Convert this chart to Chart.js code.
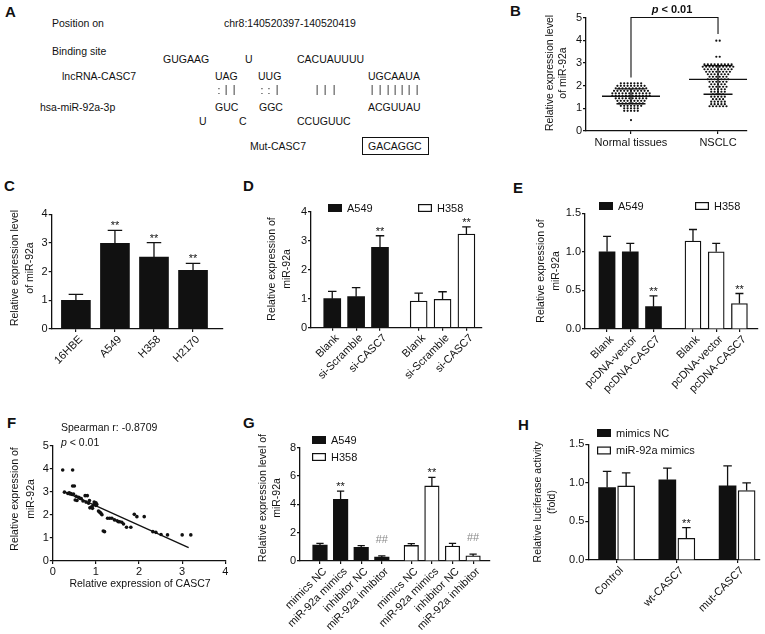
<!DOCTYPE html>
<html>
<head>
<meta charset="utf-8">
<script src="https://cdn.jsdelivr.net/npm/chart.js@4.4.1/dist/chart.umd.min.js"></script>
<style>
  html, body { margin: 0; padding: 0; background: #fff; }
  body { position: relative; width: 765px; height: 634px; overflow: hidden;
         font-family: Arial, "Liberation Sans", sans-serif; color: #111; }
  canvas { position: absolute; }
  .t { position: absolute; font-size: 10.5px; line-height: 1; white-space: nowrap; }
  #bonds { position: absolute; left: 0; top: 0; width: 450px; height: 100px; opacity: 0.99; will-change: transform; }
  .bd { position: absolute; font-size: 10.5px; line-height: 1; width: 8px; text-align: center; color: #222; }
  .L { position: absolute; font-size: 15px; font-weight: bold; line-height: 1; }
  .box { border: 1px solid #111; padding: 3px 6px 2px 5px; }
</style>
</head>
<body>

<!-- panel letters -->
<div class="L" style="left:5px;top:4px">A</div>
<div class="L" style="left:510px;top:3px">B</div>
<div class="L" style="left:4px;top:178px">C</div>
<div class="L" style="left:243px;top:178px">D</div>
<div class="L" style="left:513px;top:180px">E</div>
<div class="L" style="left:7px;top:415px">F</div>
<div class="L" style="left:243px;top:415px">G</div>
<div class="L" style="left:518px;top:417px">H</div>

<!-- panel A: binding site -->
<div class="t" style="left:52px;top:18px">Position on</div>
<div class="t" style="left:224px;top:18px">chr8:140520397-140520419</div>
<div class="t" style="left:52px;top:46px">Binding site</div>
<div class="t" style="left:163px;top:54px">GUGAAG</div>
<div class="t" style="left:245px;top:54px">U</div>
<div class="t" style="left:297px;top:54px">CACUAUUUU</div>
<div class="t" style="left:62px;top:71px">lncRNA-CASC7</div>
<div class="t" style="left:215px;top:71px">UAG</div>
<div class="t" style="left:258px;top:71px">UUG</div>
<div class="t" style="left:368px;top:71px">UGCAAUA</div>
<div id="bonds"></div>
<div class="t" style="left:40px;top:102px">hsa-miR-92a-3p</div>
<div class="t" style="left:215px;top:102px">GUC</div>
<div class="t" style="left:259px;top:102px">GGC</div>
<div class="t" style="left:368px;top:102px">ACGUUAU</div>
<div class="t" style="left:199px;top:116px">U</div>
<div class="t" style="left:239px;top:116px">C</div>
<div class="t" style="left:297px;top:116px">CCUGUUC</div>
<div class="t" style="left:250px;top:141px">Mut-CASC7</div>
<div class="t box" style="left:362px;top:137px">GACAGGC</div>

<canvas id="chartB"></canvas>
<canvas id="chartC"></canvas>
<canvas id="chartD"></canvas>
<canvas id="chartE"></canvas>
<canvas id="chartF"></canvas>
<canvas id="chartG"></canvas>
<canvas id="chartH"></canvas>

<script>
/* ---------- data ---------- */
// B: miR-92a in tissues (scatter dot plot)
const bGroups = ['Normal tissues', 'NSCLC'];
const bNormal = [
  2.10, 2.10, 2.10, 2.10, 2.10, 2.10, 2.10,
  1.99, 1.99, 1.99, 1.99, 1.99, 1.99, 1.99, 1.99, 1.99,
  1.88, 1.88, 1.88, 1.88, 1.88, 1.88, 1.88, 1.88, 1.88, 1.88,
  1.77, 1.77, 1.77, 1.77, 1.77, 1.77, 1.77, 1.77, 1.77, 1.77, 1.77,
  1.66, 1.66, 1.66, 1.66, 1.66, 1.66, 1.66, 1.66, 1.66, 1.66, 1.66, 1.66,
  1.55, 1.55, 1.55, 1.55, 1.55, 1.55, 1.55, 1.55, 1.55, 1.55, 1.55, 1.55,
  1.44, 1.44, 1.44, 1.44, 1.44, 1.44, 1.44, 1.44, 1.44, 1.44,
  1.33, 1.33, 1.33, 1.33, 1.33, 1.33, 1.33, 1.33, 1.33,
  1.22, 1.22, 1.22, 1.22, 1.22, 1.22, 1.22, 1.22,
  1.11, 1.11, 1.11, 1.11, 1.11, 1.11, 1.11,
  1.00, 1.00, 1.00, 1.00, 1.00,
  0.89, 0.89, 0.89, 0.89, 0.89,
  0.48
];
const bNsclc = [
  3.98, 3.98,
  3.27, 3.27,
  2.94, 2.94, 2.94, 2.94, 2.94, 2.94, 2.94, 2.94, 2.94,
  2.83, 2.83, 2.83, 2.83, 2.83, 2.83, 2.83, 2.83, 2.83, 2.83,
  2.72, 2.72, 2.72, 2.72, 2.72, 2.72, 2.72, 2.72, 2.72,
  2.61, 2.61, 2.61, 2.61, 2.61, 2.61, 2.61, 2.61,
  2.50, 2.50, 2.50, 2.50, 2.50, 2.50, 2.50,
  2.39, 2.39, 2.39, 2.39, 2.39, 2.39,
  2.28, 2.28, 2.28, 2.28, 2.28, 2.28, 2.28,
  2.17, 2.17, 2.17, 2.17, 2.17, 2.17,
  2.06, 2.06, 2.06, 2.06, 2.06,
  1.95, 1.95, 1.95, 1.95, 1.95, 1.95,
  1.84, 1.84, 1.84, 1.84, 1.84,
  1.73, 1.73, 1.73, 1.73, 1.73,
  1.62, 1.62, 1.62, 1.62,
  1.51, 1.51, 1.51, 1.51, 1.51,
  1.40, 1.40, 1.40, 1.40,
  1.29, 1.29, 1.29, 1.29, 1.29,
  1.18, 1.18, 1.18, 1.18, 1.18,
  1.09, 1.09, 1.09, 1.09, 1.09, 1.09
];
const bMean = [1.53, 2.27];
const bSdLow = [1.20, 1.62];
const bSdHigh = [1.86, 2.88];

// C: cell lines
const cLines = ['16HBE', 'A549', 'H358', 'H2170'];
const cMean = [1.00, 2.99, 2.51, 2.05];
const cErr = [0.21, 0.45, 0.50, 0.24];
const cSig = ['', '**', '**', '**'];

// D: si-CASC7
const dGroups = ['Blank', 'si-Scramble', 'si-CASC7'];
const dA549 = [1.00, 1.07, 2.77];
const dA549Err = [0.25, 0.31, 0.40];
const dH358 = [0.92, 0.98, 3.23];
const dH358Err = [0.27, 0.26, 0.25];
const dSig = ['', '', '**'];

// E: pcDNA-CASC7
const eGroups = ['Blank', 'pcDNA-vector', 'pcDNA-CASC7'];
const eA549 = [1.00, 1.00, 0.29];
const eA549Err = [0.20, 0.11, 0.14];
const eH358 = [1.14, 1.00, 0.33];
const eH358Err = [0.15, 0.11, 0.13];
const eSig = ['', '', '**'];

// F: correlation
const fCasc7 = [0.23, 0.46, 0.46, 0.50, 0.27, 0.35, 0.38, 0.40, 0.42, 0.45, 0.48, 0.52,
  0.54, 0.56, 0.60, 0.62, 0.66, 0.70, 0.75, 0.77, 0.80, 0.83, 0.85, 0.86, 0.90, 0.92,
  0.94, 0.96, 0.98, 1.00, 1.00, 1.02, 1.06, 1.08, 1.10, 1.12, 1.14, 1.17, 1.20, 1.27,
  1.32, 1.37, 1.43, 1.49, 1.52, 1.55, 1.60, 1.64, 1.71, 1.81, 1.89, 1.95, 2.12, 2.32,
  2.39, 2.51, 2.66, 3.00, 3.20];
const fMir = [3.94, 3.94, 3.25, 3.25, 2.98, 2.92, 2.95, 2.90, 2.92, 2.88, 2.90, 2.64,
  2.80, 2.62, 2.76, 2.72, 2.70, 2.60, 2.83, 2.55, 2.83, 2.50, 2.62, 2.30, 2.35, 2.28,
  2.42, 2.55, 2.50, 2.40, 2.52, 2.45, 2.16, 2.12, 2.10, 2.05, 2.00, 1.30, 1.27, 1.85,
  1.85, 1.85, 1.78, 1.74, 1.70, 1.70, 1.68, 1.60, 1.46, 1.46, 2.02, 1.92, 1.92, 1.27,
  1.24, 1.15, 1.13, 1.13, 1.13];
const fFitX = [0.27, 3.15];
const fFitY = [3.00, 0.58];

// G: mimics / inhibitor
const gGroups = ['mimics NC', 'miR-92a mimics', 'inhibitor NC', 'miR-92a inhibitor'];
const gA549 = [1.12, 4.35, 0.96, 0.28];
const gA549Err = [0.12, 0.58, 0.12, 0.08];
const gH358 = [1.10, 5.30, 1.05, 0.36];
const gH358Err = [0.13, 0.60, 0.20, 0.12];
const gSig = ['', '**', '', '##'];

// H: luciferase
const hGroups = ['Control', 'wt-CASC7', 'mut-CASC7'];
const hNC = [0.94, 1.04, 0.96];
const hNCErr = [0.21, 0.15, 0.26];
const hMimics = [0.96, 0.28, 0.90];
const hMimicsErr = [0.17, 0.14, 0.10];
const hSig = ['', '**', ''];

/* ---------- panel A bond marks ---------- */
const bondMarks = [[':', 219], ['|', 226], ['|', 234],
  [':', 262], [':', 269], ['|', 277],
  ['|', 317], ['|', 325], ['|', 334],
  ['|', 372], ['|', 380], ['|', 388], ['|', 395], ['|', 402], ['|', 409], ['|', 417]];
const bondsEl = document.getElementById('bonds');
bondMarks.forEach(([ch, x]) => {
  const s = document.createElement('div');
  s.className = 'bd';
  s.style.left = (x - 4) + 'px';
  s.style.top = (ch === ':' ? 85 : 84) + 'px';
  s.textContent = ch;
  bondsEl.appendChild(s);
});

/* ---------- helpers ---------- */
const FONT = 'Arial, "Liberation Sans", sans-serif';
const font = (size, style) => ((style || '') + ' ' + size + 'px ' + FONT).trim();
const INK = '#111';

const pageText = {
  id: 'pageText',
  afterDraw(chart, args, opts) {
    const ctx = chart.ctx, [ox, oy] = chart.canvas._origin;
    (opts.items || []).forEach(it => {
      ctx.save();
      ctx.fillStyle = it.color || INK;
      ctx.textBaseline = 'middle';
      ctx.translate(it.x - ox, it.y - oy);
      if (it.rot) ctx.rotate(it.rot);
      const parts = it.parts || [{text: it.text, font: it.font || font(10.5)}];
      let w = 0;
      parts.forEach(p => { ctx.font = p.font; w += ctx.measureText(p.text).width; });
      let x = it.align === 'left' ? 0 : -w / 2;
      ctx.textAlign = 'left';
      parts.forEach(p => { ctx.font = p.font; ctx.fillText(p.text, x, 0); x += ctx.measureText(p.text).width; });
      ctx.restore();
    });
  }
};

const keyBoxes = {
  id: 'keyBoxes',
  afterDraw(chart, args, opts) {
    if (!opts.at) return;
    const ctx = chart.ctx, [ox, oy] = chart.canvas._origin;
    opts.at.forEach((pos, i) => {
      const ds = chart.data.datasets[i];
      const x = pos[0] - ox, y = pos[1] - oy;
      ctx.save();
      ctx.fillStyle = ds.backgroundColor;
      ctx.fillRect(x, y - 4, 14, 8);
      ctx.strokeStyle = INK; ctx.lineWidth = 1.2;
      ctx.strokeRect(x + 0.6, y - 3.4, 12.8, 6.8);
      ctx.font = font(11); ctx.fillStyle = INK; ctx.textBaseline = 'middle';
      ctx.fillText(ds.label, x + 19, y + 0.5);
      ctx.restore();
    });
  }
};

const errBars = {
  id: 'errBars',
  afterDatasetsDraw(chart) {
    const ctx = chart.ctx, xs = chart.scales.x, ys = chart.scales.y;
    chart.data.datasets.forEach(ds => {
      if (!ds.err) return;
      ds.data.forEach((pt, i) => {
        const x = xs.getPixelForValue(pt.x);
        const y0 = ys.getPixelForValue(pt.y);
        const y1 = ys.getPixelForValue(pt.y + ds.err[i]);
        const cap = ds.barThickness / 2;
        ctx.save();
        ctx.strokeStyle = INK; ctx.lineWidth = 1.3;
        ctx.beginPath();
        ctx.moveTo(x, y0); ctx.lineTo(x, y1);
        ctx.moveTo(x - cap / 2, y1); ctx.lineTo(x + cap / 2, y1);
        ctx.stroke();
        const s = ds.sig && ds.sig[i];
        if (s) {
          ctx.font = font(11); ctx.textAlign = 'center'; ctx.textBaseline = 'alphabetic';
          ctx.fillStyle = s === '##' ? '#8a8a8a' : INK;
          ctx.fillText(s, x, y1 - (s === '##' ? 13 : 1));
        }
        ctx.restore();
      });
    });
  }
};

const spread = {
  id: 'spread',
  afterDatasetsDraw(chart, args, opts) {
    if (!opts.mean) return;
    const ctx = chart.ctx, xs = chart.scales.x, ys = chart.scales.y;
    ctx.save();
    ctx.strokeStyle = INK; ctx.lineWidth = 1.3;
    ctx.beginPath();
    opts.mean.forEach((m, i) => {
      const x = xs.getPixelForValue(i);
      const ym = ys.getPixelForValue(m), yl = ys.getPixelForValue(opts.lo[i]), yh = ys.getPixelForValue(opts.hi[i]);
      ctx.moveTo(x - opts.meanW / 2, ym); ctx.lineTo(x + opts.meanW / 2, ym);
      ctx.moveTo(x, yl); ctx.lineTo(x, yh);
      ctx.moveTo(x - opts.capW / 2, yl); ctx.lineTo(x + opts.capW / 2, yl);
      ctx.moveTo(x - opts.capW / 2, yh); ctx.lineTo(x + opts.capW / 2, yh);
    });
    ctx.stroke();
    const br = opts.bracket;
    if (br) {
      const xa = xs.getPixelForValue(br.from), xb = xs.getPixelForValue(br.to), yt = ys.getPixelForValue(br.top);
      ctx.lineWidth = 1.1;
      ctx.beginPath();
      ctx.moveTo(xa, ys.getPixelForValue(br.leftEnd)); ctx.lineTo(xa, yt);
      ctx.lineTo(xb, yt); ctx.lineTo(xb, ys.getPixelForValue(br.rightEnd));
      ctx.stroke();
    }
    ctx.restore();
  }
};

Chart.register(pageText, keyBoxes, errBars, spread);

function fixedSize(size) {
  return scale => {
    if (scale.isHorizontal()) scale.height = size; else scale.width = size;
    scale.paddingLeft = scale.paddingRight = scale.paddingTop = scale.paddingBottom = 0;
  };
}

const lineStyle = {
  border: {display: true, color: INK, width: 1.3},
  grid: {display: true, drawOnChartArea: false, drawTicks: true, tickLength: 3, color: INK, lineWidth: 1.2, offset: false}
};

function yAxis(min, max, step, digits) {
  return Object.assign({
    type: 'linear', min, max,
    ticks: {stepSize: step, padding: 1, color: INK, font: {family: FONT, size: 11},
      callback: v => digits ? v.toFixed(digits) : String(v)}
  }, lineStyle);
}

function xLinear(min, max, step) {
  return Object.assign({
    type: 'linear', min, max, offset: false,
    ticks: {stepSize: step, padding: 1, color: INK, font: {family: FONT, size: 11}, maxRotation: 0, minRotation: 0}
  }, lineStyle);
}

function xCats(min, max, at, labels, rot) {
  return Object.assign({
    type: 'linear', min, max, offset: false,
    afterBuildTicks: s => { s.ticks = at.map(v => ({value: v})); },
    ticks: {autoSkip: false, padding: rot ? 1 : 2, maxRotation: rot, minRotation: rot, color: INK,
      labelOffset: rot ? 5 : 0,
      font: {family: FONT, size: 11}, callback: (v, i) => labels[i]}
  }, lineStyle);
}

function bars(label, vals, errs, sig, at, fill, width) {
  return {
    label, data: vals.map((v, i) => ({x: at[i], y: v})),
    err: errs, sig,
    backgroundColor: fill, borderColor: INK, borderWidth: fill === '#fff' ? 1.3 : 0,
    barThickness: width, grouped: false, borderSkipped: 'bottom'
  };
}

function yTitle(lines, xs, cy) {
  return lines.map((t, i) => ({text: t, x: xs[i], y: cy, rot: -Math.PI / 2}));
}

function swarm(values, center, step) {
  const rows = new Map();
  values.forEach(v => { if (!rows.has(v)) rows.set(v, []); rows.get(v).push(v); });
  const pts = [];
  rows.forEach(list => {
    const n = list.length;
    list.forEach((v, i) => pts.push({x: center + (i - (n - 1) / 2) * step, y: v}));
  });
  return pts;
}

// box = canvas [left, top, width, height]; area = plot [left, top, right, bottom], page px
function makeChart(id, box, area, cfg) {
  const [L, T, W, H] = box, [l, t, r, b] = area;
  const canvas = document.getElementById(id);
  canvas.style.left = L + 'px'; canvas.style.top = T + 'px';
  canvas.width = W; canvas.height = H;
  canvas.style.width = W + 'px'; canvas.style.height = H + 'px';
  canvas._origin = [L, T];
  const o = cfg.options;
  o.responsive = false; o.animation = false; o.devicePixelRatio = 1;
  o.layout = {padding: {top: t - T, right: L + W - r, left: 0, bottom: 0}};
  o.scales.x.afterFit = fixedSize(T + H - b);
  o.scales.y.afterFit = fixedSize(l - L);
  o.plugins = Object.assign({legend: {display: false}, tooltip: {enabled: false}}, o.plugins || {});
  return new Chart(canvas, cfg);
}

/* ---------- B ---------- */
makeChart('chartB', [505, 0, 260, 170], [586, 17.5, 747, 131], {
  type: 'scatter',
  data: {datasets: [
    {data: swarm(bNormal, 0, 0.039), pointRadius: 1.1, backgroundColor: INK, borderWidth: 0},
    {data: swarm(bNsclc, 1, 0.039), pointRadius: 1.1, backgroundColor: INK, borderWidth: 0}
  ]},
  options: {
    scales: {x: xCats(-0.517, 1.333, [0, 1], bGroups, 0), y: yAxis(0, 5, 1)},
    plugins: {
      spread: {mean: bMean, lo: bSdLow, hi: bSdHigh, meanW: 58, capW: 29,
        bracket: {from: 0, to: 1, top: 5.0, leftEnd: 2.36, rightEnd: 4.27}},
      pageText: {items: [
        ...yTitle(['Relative expression level', 'of miR-92a'], [550, 563], 73),
        {parts: [{text: 'p', font: font(11, 'italic bold')}, {text: ' < 0.01', font: font(11, 'bold')}], x: 672, y: 10}
      ]}
    }
  }
});

/* ---------- C ---------- */
const cAt = cLines.map((_, i) => i);
makeChart('chartC', [0, 200, 245, 210], [51.7, 214.3, 222.7, 329], {
  type: 'bar',
  data: {datasets: [bars('C', cMean, cErr, cSig, cAt, INK, 29)]},
  options: {
    scales: {x: xCats(-0.62, 3.76, cAt, cLines, 45), y: yAxis(0, 4, 1)},
    plugins: {pageText: {items: yTitle(['Relative expression level', 'of miR-92a'], [15.5, 30], 268)}}
  }
});

/* ---------- D ---------- */
const dAtA = dGroups.map((_, i) => i);
const dAtH = dGroups.map((_, i) => i + 3.62);
makeChart('chartD', [245, 195, 260, 215], [311, 211.7, 481.7, 327.7], {
  type: 'bar',
  data: {datasets: [
    bars('A549', dA549, dA549Err, dSig, dAtA, INK, 17),
    bars('H358', dH358, dH358Err, dSig, dAtH, '#fff', 17)
  ]},
  options: {
    scales: {x: xCats(-0.89, 6.26, dAtA.concat(dAtH), dGroups.concat(dGroups), 45), y: yAxis(0, 4, 1)},
    plugins: {
      keyBoxes: {at: [[328, 208], [418, 208]]},
      pageText: {items: yTitle(['Relative expression of', 'miR-92a'], [272.5, 286.7], 269)}
    }
  }
});

/* ---------- E ---------- */
const eAtA = eGroups.map((_, i) => i);
const eAtH = eGroups.map((_, i) => i + 3.7);
makeChart('chartE', [505, 195, 260, 215], [585, 213.3, 758, 329], {
  type: 'bar',
  data: {datasets: [
    bars('A549', eA549, eA549Err, eSig, eAtA, INK, 16),
    bars('H358', eH358, eH358Err, eSig, eAtH, '#fff', 16)
  ]},
  options: {
    scales: {x: xCats(-0.95, 6.5, eAtA.concat(eAtH), eGroups.concat(eGroups), 45), y: yAxis(0, 1.5, 0.5, 1)},
    plugins: {
      keyBoxes: {at: [[599, 206], [695, 206]]},
      pageText: {items: yTitle(['Relative expression of', 'miR-92a'], [541, 555.8], 271)}
    }
  }
});

/* ---------- F ---------- */
makeChart('chartF', [0, 415, 245, 219], [52.8, 445.5, 225.3, 561], {
  type: 'scatter',
  data: {datasets: [
    {data: fCasc7.map((x, i) => ({x, y: fMir[i]})), pointRadius: 1.8, backgroundColor: INK, borderWidth: 0},
    {data: fFitX.map((x, i) => ({x, y: fFitY[i]})), showLine: true, pointRadius: 0, borderColor: INK, borderWidth: 1.3}
  ]},
  options: {
    scales: {x: xLinear(0, 4, 1), y: yAxis(0, 5, 1)},
    plugins: {pageText: {items: [
      ...yTitle(['Relative expression of', 'miR-92a'], [15, 31], 499),
      {text: 'Spearman r: -0.8709', x: 61, y: 428, align: 'left', font: font(10.5)},
      {parts: [{text: 'p', font: font(10.5, 'italic')}, {text: ' < 0.01', font: font(10.5)}], x: 61, y: 443, align: 'left'},
      {text: 'Relative expression of CASC7', x: 140, y: 584}
    ]}}
  }
});

/* ---------- G ---------- */
const gAtA = gGroups.map((_, i) => i);
const gAtH = gGroups.map((_, i) => i + 4.43);
makeChart('chartG', [245, 415, 260, 219], [300, 447.7, 490, 561], {
  type: 'bar',
  data: {datasets: [
    bars('A549', gA549, gA549Err, gSig, gAtA, INK, 14.5),
    bars('H358', gH358, gH358Err, gSig, gAtH, '#fff', 14.5)
  ]},
  options: {
    scales: {x: xCats(-0.97, 8.25, gAtA.concat(gAtH), gGroups.concat(gGroups), 45), y: yAxis(0, 8, 2)},
    plugins: {
      keyBoxes: {at: [[312, 440], [312, 457]]},
      pageText: {items: yTitle(['Relative expression level of', 'miR-92a'], [263, 276.7], 498)}
    }
  }
});

/* ---------- H ---------- */
const hAt = hGroups.map((_, i) => i);
makeChart('chartH', [505, 415, 260, 219], [588.3, 444.3, 760, 560], {
  type: 'bar',
  data: {datasets: [
    bars('mimics NC', hNC, hNCErr, ['', '', ''], hAt.map(g => g - 0.158), INK, 17),
    bars('miR-92a mimics', hMimics, hMimicsErr, hSig, hAt.map(g => g + 0.158), '#fff', 17)
  ]},
  options: {
    scales: {x: xCats(-0.47, 2.38, hAt, hGroups, 45), y: yAxis(0, 1.5, 0.5, 1)},
    plugins: {
      keyBoxes: {at: [[597, 433], [597, 450.5]]},
      pageText: {items: yTitle(['Relative luciferase activity', '(fold)'], [538, 551.7], 502)}
    }
  }
});
</script>
</body>
</html>
